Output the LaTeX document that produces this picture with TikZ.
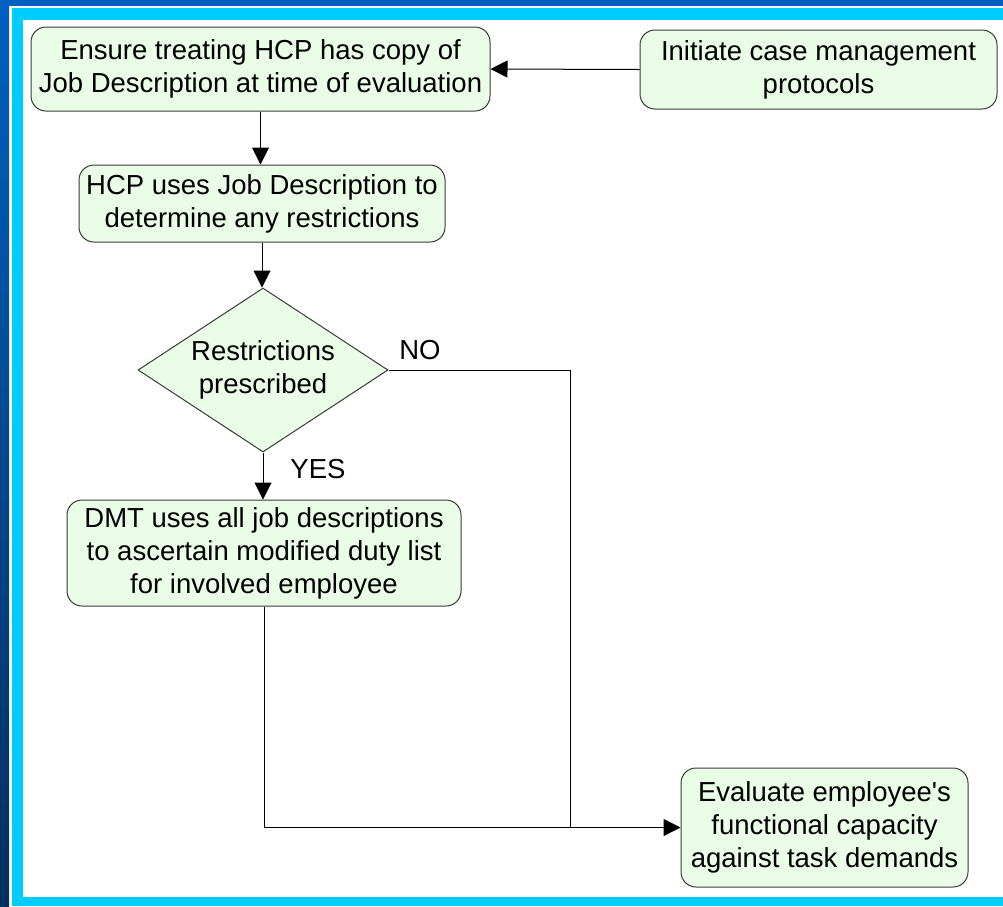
\documentclass[tikz,border=0pt]{standalone}
\usepackage{fontspec}
\setmainfont{Liberation Sans}
\usetikzlibrary{shapes.geometric,arrows.meta}
\definecolor{frameblue}{HTML}{0060C0}
\definecolor{deepblue}{HTML}{00305E}
\definecolor{bandcyan}{HTML}{00CCFF}
\definecolor{boxfill}{HTML}{EAFDE6}
\definecolor{boxline}{HTML}{3A3A3A}
\tikzset{
  stepbox/.style={draw=boxline, fill=boxfill, line width=1pt, rounded corners=15pt,
    align=center, inner sep=0pt, font=\fontsize{27.5}{33}\selectfont},
  decision/.style={draw=boxline, fill=boxfill, line width=1pt, shape=diamond,
    aspect=1.52, inner sep=0pt, minimum width=250pt, minimum height=164pt,
    align=center, font=\fontsize{27.5}{33}\selectfont},
  flow/.style={draw=black, line width=1pt, -{Triangle[length=17pt,width=17pt]}},
  plain/.style={draw=black, line width=1pt},
  tag/.style={font=\fontsize{27.5}{30}\selectfont, inner sep=0pt}
}
\begin{document}
\begin{tikzpicture}[x=1pt,y=-1pt]
  % page frame: blue edges, cyan band, white canvas
  \useasboundingbox (0,0) rectangle (1003,906);
  \fill[white] (0,0) rectangle (1003,906);
  \shade[top color=frameblue, bottom color=deepblue] (0,0) rectangle (9,906);
  \fill[frameblue] (0,0) rectangle (1003,6);
  \fill[bandcyan] (12,8) rectangle (1003,906);
  \fill[white] (23,20) rectangle (1003,897);

  % process steps
  \node[stepbox, minimum width=459pt, minimum height=84pt] (ensure) at (260.5,69)
    {Ensure treating HCP has copy of\\Job Description at time of evaluation};
  \node[stepbox, minimum width=357pt, minimum height=79pt] (initiate) at (818.5,69.5)
    {Initiate case management\\protocols};
  \node[stepbox, minimum width=366pt, minimum height=77pt] (hcp) at (262,203.5)
    {HCP uses Job Description to\\determine any restrictions};
  \node[decision] (restr) at (263,370) {Restrictions\\prescribed};
  \node[stepbox, minimum width=394pt, minimum height=106pt] (dmt) at (264,553)
    {DMT uses all job descriptions\\to ascertain modified duty list\\for involved employee};
  \node[stepbox, minimum width=287pt, minimum height=119pt] (evaluate) at (824.5,827.5)
    {Evaluate employee\textquotesingle s\\functional capacity\\against task demands};

  % connectors
  \draw[flow] (initiate.west) -- (ensure.east);
  \draw[flow] (ensure.south) -- (ensure.south |- hcp.north);
  \draw[flow] (hcp.south) -- (hcp.south |- restr.north);
  \draw[flow] (restr.south) -- (restr.south |- dmt.north);
  \coordinate (noturn) at (570,370);
  \coordinate (nojoin) at (570,828);
  \draw[plain] (restr.east) -- (noturn) -- (nojoin);
  \draw[flow] (dmt.south) |- (evaluate.west);

  % branch labels
  \node[tag] (yes) at (318,469) {YES};
  \node[tag] (no) at (420,350) {NO};
\end{tikzpicture}
\end{document}
